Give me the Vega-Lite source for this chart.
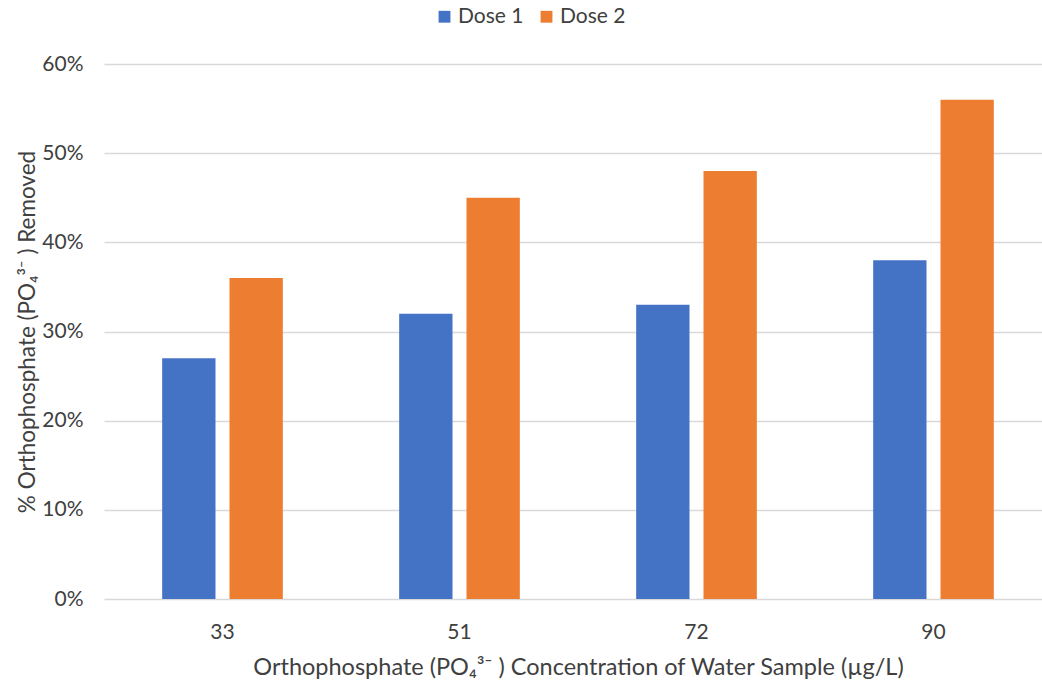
{
  "$schema": "https://vega.github.io/schema/vega-lite/v6.json",
  "autosize": "none",
  "padding": {"left": 104, "top": 64, "right": 0, "bottom": 84},
  "width": 938,
  "height": 535,
  "background": "white",
  "config": {
    "font": "Lato",
    "view": {"stroke": null},
    "axis": {"labelColor": "#404040", "titleColor": "#404040", "labelFont": "Lato", "titleFont": "Lato", "titleFontWeight": "normal"},
    "legend": {"labelColor": "#404040", "labelFont": "Lato"}
  },
  "data": {
    "values": [
      {"conc": "33", "dose": "Dose 1", "removed": 0.27},
      {"conc": "33", "dose": "Dose 2", "removed": 0.36},
      {"conc": "51", "dose": "Dose 1", "removed": 0.32},
      {"conc": "51", "dose": "Dose 2", "removed": 0.45},
      {"conc": "72", "dose": "Dose 1", "removed": 0.33},
      {"conc": "72", "dose": "Dose 2", "removed": 0.48},
      {"conc": "90", "dose": "Dose 1", "removed": 0.38},
      {"conc": "90", "dose": "Dose 2", "removed": 0.56}
    ]
  },
  "mark": {"type": "bar"},
  "encoding": {
    "x": {
      "field": "conc",
      "type": "ordinal",
      "sort": ["33", "51", "72", "90"],
      "scale": {"range": [0, 948], "paddingInner": 0, "paddingOuter": 0},
      "axis": {
        "title": "Orthophosphate (PO₄³⁻ ) Concentration of Water Sample (µg/L)",
        "labelAngle": 0,
        "labelFontSize": 21,
        "labelBaseline": "middle",
        "labelPadding": 33,
        "ticks": false,
        "domain": false,
        "titleFontSize": 23.5,
        "titleBaseline": "middle",
        "titleX": 474,
        "titleY": 68,
        "titleAnchor": "middle"
      }
    },
    "xOffset": {
      "field": "dose",
      "type": "nominal",
      "scale": {"paddingInner": 0.208, "paddingOuter": 0.864}
    },
    "y": {
      "field": "removed",
      "type": "quantitative",
      "scale": {"domain": [0, 0.6], "nice": false},
      "axis": {
        "title": "% Orthophosphate (PO₄³⁻ ) Removed",
        "format": ".0%",
        "values": [0, 0.1, 0.2, 0.3, 0.4, 0.5, 0.6],
        "labelFontSize": 21,
        "labelPadding": 21,
        "ticks": false,
        "domain": false,
        "grid": true,
        "gridColor": "#d9d9d9",
        "gridWidth": 1.3,
        "titleFontSize": 22.5,
        "titleBaseline": "middle",
        "titleX": -77,
        "titleY": 267.5,
        "titleAngle": -90
      }
    },
    "color": {
      "field": "dose",
      "type": "nominal",
      "scale": {"domain": ["Dose 1", "Dose 2"], "range": ["#4472C4", "#ED7D31"]},
      "legend": {
        "title": null,
        "orient": "none",
        "direction": "horizontal",
        "legendX": 330,
        "legendY": -58,
        "symbolType": "square",
        "symbolSize": 140,
        "symbolStrokeWidth": 0,
        "symbolOpacity": 1,
        "labelFontSize": 21,
        "columnPadding": 12,
        "labelOffset": 3
      }
    }
  }
}
